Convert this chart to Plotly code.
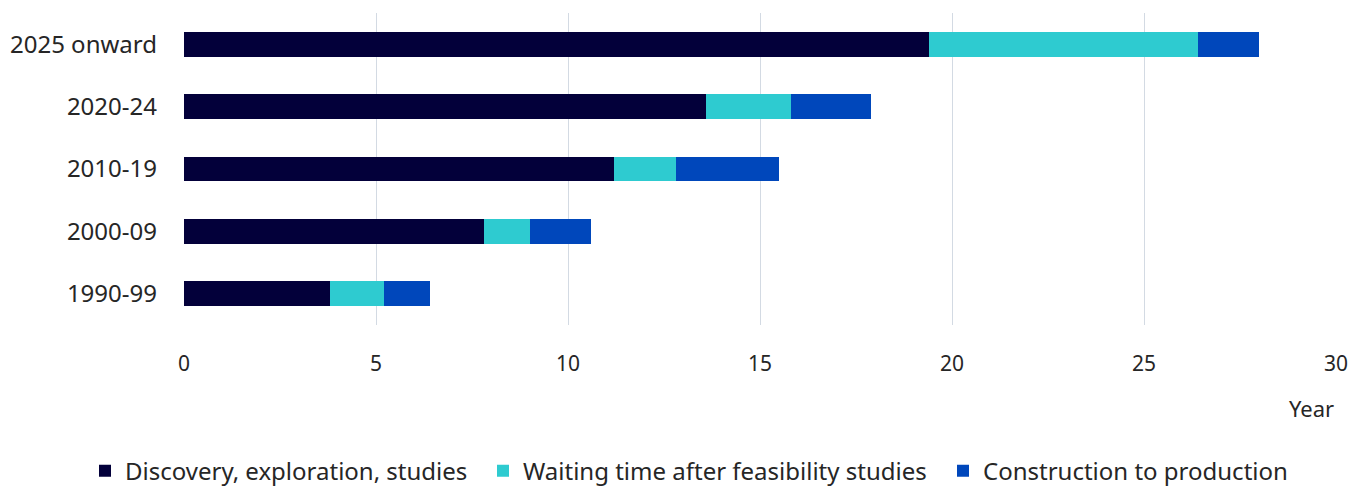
import plotly.graph_objects as go

categories = ["1990-99", "2000-09", "2010-19", "2020-24", "2025 onward"]
discovery = [3.8, 7.8, 11.2, 13.6, 19.4]
waiting = [1.4, 1.2, 1.6, 2.2, 7.0]
construction = [1.2, 1.6, 2.7, 2.1, 1.6]
series_names = ["Discovery, exploration, studies",
                "Waiting time after feasibility studies",
                "Construction to production"]
colors = ["#03003A", "#2ECBD0", "#0047BB"]
x_ticks = [0, 5, 10, 15, 20, 25, 30]

FONT = "Noto Sans"
TXT = "#262626"
W, H = 1346, 480
legend_ids = ["legend", "legend2", "legend3"]
legend_left_px = [77, 475, 935]

fig = go.Figure()
for name, vals, c, lg in zip(series_names, [discovery, waiting, construction], colors, legend_ids):
    fig.add_trace(go.Bar(y=categories, x=vals, name=name, orientation="h",
                         legend=lg,
                         marker=dict(color=c, line=dict(width=0))))

legend_common = dict(orientation="h", xref="container", yref="container",
                     xanchor="left", y=0.035, yanchor="middle",
                     font=dict(size=24, color=TXT), itemwidth=30,
                     bgcolor="rgba(0,0,0,0)")
layout_legends = {lg: dict(legend_common, x=px / W) for lg, px in zip(legend_ids, legend_left_px)}

fig.update_layout(
    barmode="stack",
    bargap=0.6,
    width=W, height=H,
    margin=dict(l=176, r=18, t=5, b=163),
    paper_bgcolor="white", plot_bgcolor="white",
    font=dict(family=FONT, size=21, color=TXT),
    showlegend=True,
    xaxis=dict(range=[0, 30], tickvals=x_ticks, showgrid=True,
               gridcolor="#D3DAE3", gridwidth=1, zeroline=False,
               showline=False, ticks="", ticklabelstandoff=24,
               automargin=False, tickfont=dict(size=21)),
    yaxis=dict(type="category", categoryorder="array", categoryarray=categories,
               range=[-0.5, 4.5], showgrid=False, zeroline=False,
               showline=False, ticks="", ticklabelstandoff=26,
               automargin=False, tickfont=dict(size=24)),
    **layout_legends,
)
fig.add_annotation(text="Year", xref="paper", yref="paper", x=1.0, y=-0.266,
                   xanchor="right", yanchor="middle", showarrow=False,
                   font=dict(size=22, color=TXT))
fig.write_html("out.html")
